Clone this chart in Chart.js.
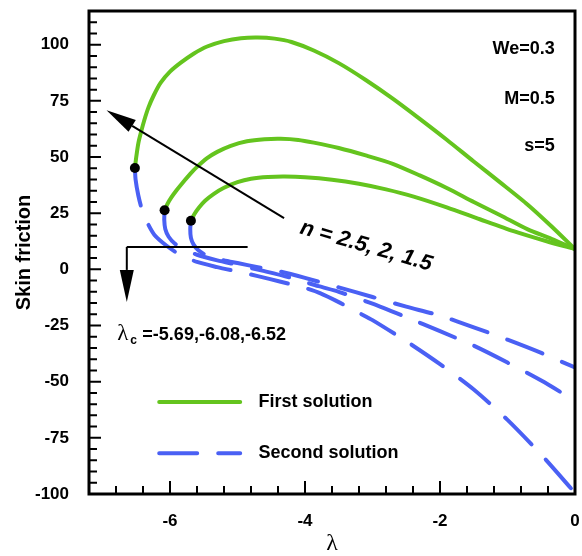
<!DOCTYPE html>
<html>
<head>
<meta charset="utf-8">
<title>Skin friction</title>
<script src="https://cdn.jsdelivr.net/npm/chart.js@4.4.1/dist/chart.umd.min.js"></script>
<style>
  html, body { margin: 0; padding: 0; background: #fff; }
  #wrap { width: 582px; height: 556px; position: relative; }
</style>
</head>
<body>
<div id="wrap"><canvas id="skinChart"></canvas></div>
<script>
// turning points (lambda_c) where the two branches meet
const lamC = [-6.52, -6.08, -5.69];
const cfC = [45.1, 26.3, 21.6];

// first solution (upper branch), n = 2.5
const lamFirst25 = [-6.52, -6.5, -6.47, -6.43, -6.38, -6.32, -6.24, -6.14, -6.0, -5.84, -5.65, -5.45, -5.2, -4.95, -4.7, -4.45, -4.2, -3.87, -3.5, -3.1, -2.7, -2.3, -1.9, -1.5, -1.1, -0.7, -0.35, 0];
const cfFirst25 = [45.1, 50, 56, 61, 66.5, 72, 77.5, 83, 88, 92, 96, 99.2, 101.6, 102.9, 103.2, 102.7, 101.2, 97.4, 91.8, 84.3, 76, 67, 57.7, 48, 38.5, 28.8, 19.2, 9];
// n = 2
const lamFirst20 = [-6.08, -6.04, -5.98, -5.9, -5.8, -5.7, -5.6, -5.45, -5.3, -5.1, -4.86, -4.6, -4.36, -4.1, -3.87, -3.5, -3.1, -2.7, -2.3, -1.9, -1.5, -1.1, -0.7, -0.35, 0];
const cfFirst20 = [26.3, 29, 32, 35.3, 39, 42.5, 45.6, 49.5, 52.3, 55, 57, 57.9, 58.1, 57.6, 56.4, 54, 50.7, 47, 41.8, 36.2, 30, 24, 17.8, 13.6, 9];
// n = 1.5
const lamFirst15 = [-5.69, -5.64, -5.57, -5.48, -5.35, -5.2, -5.0, -4.8, -4.55, -4.3, -4.0, -3.6, -3.2, -2.8, -2.39, -1.9, -1.41, -0.91, -0.42, 0];
const cfFirst15 = [21.6, 24.5, 27.5, 30.5, 33.6, 36.3, 38.8, 40.3, 41.1, 41.3, 41, 39.9, 38.1, 35.6, 32.4, 27.6, 22.3, 17, 12.5, 9];

// second solution (lower branch), n = 2.5
const lamSecond25 = [-6.52, -6.51, -6.47, -6.41, -6.34, -6.23, -6.05, -5.85, -5.6, -5.3, -5.0, -4.7, -4.36, -4.0, -3.77, -3.5, -3.2, -3.0, -2.5, -2.0, -1.5, -1.0, -0.5, 0];
const cfSecond25 = [45.1, 40, 33, 26, 21, 15.3, 10.5, 6.5, 3.3, 1, -1, -3, -5.5, -8.3, -10.7, -14.6, -19.4, -22.6, -32, -42.2, -53.5, -67, -82.5, -99.5];
// n = 2
const lamSecond20 = [-6.08, -6.085, -6.07, -6.02, -5.93, -5.8, -5.6, -5.3, -5.0, -4.6, -4.2, -3.8, -3.5, -3.0, -2.5, -2.0, -1.5, -1.0, -0.5, 0];
const cfSecond20 = [26.3, 22, 18, 14.5, 11.5, 9, 6.5, 4, 2, -0.8, -3.8, -7.5, -10, -15.3, -21.3, -27.5, -34, -41.5, -49.5, -58.5];
// n = 1.5
const lamSecond15 = [-5.69, -5.7, -5.69, -5.65, -5.58, -5.47, -5.3, -5.0, -4.7, -4.36, -4.0, -3.5, -3.0, -2.5, -2.0, -1.5, -1.0, -0.5, 0];
const cfSecond15 = [21.6, 18, 14, 11, 8.5, 6.4, 4.7, 2.8, 1, -1, -3.8, -8, -12.3, -16.6, -20.6, -25.8, -31.3, -37.2, -43.7];

// axis ranges and tick spacing
const lamRange = [-7.2, 0];
const cfRange = [-100, 115];
const lamStep = 0.4, lamMajor = 2;
const cfStep = 5, cfMajor = 25;

// annotation anchors, in (lambda, skin friction) units
const nArrowFrom = [-4.31, 22.8];
const nArrowTo = [-6.94, 70.8];
const nLabelAt = [-4.09, 16.1];
const bracketRight = [-4.85, 10];
const bracketCorner = [-6.64, 10];
const bracketTip = [-6.64, -14.5];
const lamCLabelAt = [-6.78, -31.3];
const paramLabels = ['We=0.3', 'M=0.5', 's=5'];
const paramAt = [[-0.3, 97.9], [-0.3, 75.9], [-0.3, 54.7]];
const legendLine = [-6.16, -4.96];
const legendTextAt = -4.69;
const legendRows = [-59.1, -81.9];

const green = '#64c41e';
const blue = '#4a60f4';
const sans = "'Liberation Sans', Arial, sans-serif";
const serif = "'Liberation Serif', 'Times New Roman', serif";
const dash = [38, 21];

function pts(xs, ys) {
  return xs.map((x, i) => ({ x: x, y: ys[i] }));
}
function isMultiple(v, m) {
  return Math.abs(v / m - Math.round(v / m)) < 1e-6;
}

function firstLine(xs, ys) {
  return { data: pts(xs, ys), borderColor: green, borderWidth: 4, borderCapStyle: 'round',
    pointRadius: 0, tension: 0.25, fill: false };
}
function secondLine(xs, ys) {
  return { data: pts(xs, ys), borderColor: blue, borderWidth: 4, borderCapStyle: 'round',
    borderDash: dash, pointRadius: 0, tension: 0.25, fill: false };
}

function arrow(ctx, x0, y0, x1, y1, head, half) {
  const a = Math.atan2(y1 - y0, x1 - x0);
  const bx = x1 - head * Math.cos(a), by = y1 - head * Math.sin(a);
  ctx.beginPath();
  ctx.moveTo(x0, y0);
  ctx.lineTo(bx, by);
  ctx.stroke();
  ctx.beginPath();
  ctx.moveTo(x1, y1);
  ctx.lineTo(bx + half * Math.sin(a), by - half * Math.cos(a));
  ctx.lineTo(bx - half * Math.sin(a), by + half * Math.cos(a));
  ctx.closePath();
  ctx.fill();
}

// frame, inward ticks, arrows, text and legend
const decor = {
  id: 'decor',
  afterDatasetsDraw(chart) {
    const { ctx, chartArea: area, scales: { x, y } } = chart;
    const px = v => x.getPixelForValue(v);
    const py = v => y.getPixelForValue(v);
    ctx.save();
    ctx.strokeStyle = '#000';
    ctx.fillStyle = '#000';

    ctx.lineWidth = 2;
    ctx.beginPath();
    x.ticks.forEach(t => {
      const len = isMultiple(t.value, lamMajor) ? 13 : 8;
      const p = px(t.value);
      ctx.moveTo(p, area.bottom);
      ctx.lineTo(p, area.bottom - len);
    });
    y.ticks.forEach(t => {
      const len = isMultiple(t.value, cfMajor) ? 12 : 8;
      const p = py(t.value);
      ctx.moveTo(area.left, p);
      ctx.lineTo(area.left + len, p);
    });
    ctx.stroke();

    ctx.lineWidth = 3;
    ctx.strokeRect(area.left, area.top, area.right - area.left, area.bottom - area.top);

    // n arrow
    ctx.lineWidth = 2;
    arrow(ctx, px(nArrowFrom[0]), py(nArrowFrom[1]), px(nArrowTo[0]), py(nArrowTo[1]), 30, 7);

    // lambda_c bracket arrow
    ctx.beginPath();
    ctx.moveTo(px(bracketRight[0]), py(bracketRight[1]));
    ctx.lineTo(px(bracketCorner[0]), py(bracketCorner[1]));
    ctx.stroke();
    arrow(ctx, px(bracketCorner[0]), py(bracketCorner[1]), px(bracketTip[0]), py(bracketTip[1]), 32, 7);

    // n label
    ctx.save();
    ctx.translate(px(nLabelAt[0]), py(nLabelAt[1]));
    ctx.rotate(16 * Math.PI / 180);
    ctx.font = 'italic bold 22px ' + sans;
    ctx.textAlign = 'left';
    ctx.textBaseline = 'alphabetic';
    ctx.fillText('n = 2.5, 2, 1.5', 0, 0);
    ctx.restore();

    // lambda_c label
    const lx = px(lamCLabelAt[0]), ly = py(lamCLabelAt[1]);
    ctx.textAlign = 'left';
    ctx.textBaseline = 'alphabetic';
    ctx.font = '23px ' + serif;
    ctx.fillText('λ', lx, ly);
    ctx.font = 'bold 12px ' + sans;
    ctx.fillText('c', lx + 13, ly + 4.5);
    ctx.font = 'bold 18px ' + sans;
    ctx.fillText('=-5.69,-6.08,-6.52', lx + 25, ly);

    // parameter labels
    ctx.textAlign = 'right';
    ctx.textBaseline = 'middle';
    paramLabels.forEach((s, i) => ctx.fillText(s, px(paramAt[i][0]), py(paramAt[i][1])));

    // legend
    ctx.lineWidth = 4;
    ctx.lineCap = 'round';
    ctx.strokeStyle = green;
    ctx.beginPath();
    ctx.moveTo(px(legendLine[0]), py(legendRows[0]));
    ctx.lineTo(px(legendLine[1]), py(legendRows[0]));
    ctx.stroke();
    ctx.strokeStyle = blue;
    ctx.setLineDash(dash);
    ctx.beginPath();
    ctx.moveTo(px(legendLine[0]), py(legendRows[1]));
    ctx.lineTo(px(legendLine[1]), py(legendRows[1]));
    ctx.stroke();
    ctx.setLineDash([]);
    ctx.textAlign = 'left';
    ctx.fillText('First solution', px(legendTextAt), py(legendRows[0]));
    ctx.fillText('Second solution', px(legendTextAt), py(legendRows[1]));

    ctx.restore();
  }
};

new Chart(document.getElementById('skinChart'), {
  type: 'line',
  data: {
    datasets: [
      { type: 'scatter', data: pts(lamC, cfC), pointRadius: 5, pointBackgroundColor: '#000',
        pointBorderWidth: 0, showLine: false },
      firstLine(lamFirst25, cfFirst25),
      firstLine(lamFirst20, cfFirst20),
      firstLine(lamFirst15, cfFirst15),
      secondLine(lamSecond25, cfSecond25),
      secondLine(lamSecond20, cfSecond20),
      secondLine(lamSecond15, cfSecond15)
    ]
  },
  options: {
    responsive: true,
    maintainAspectRatio: false,
    animation: false,
    events: [],
    layout: { padding: { top: 11, right: 7, left: 0, bottom: 0 } },
    plugins: { legend: { display: false }, tooltip: { enabled: false } },
    scales: {
      x: {
        type: 'linear',
        min: lamRange[0],
        max: lamRange[1],
        afterFit(s) { s.height = 62; s.paddingLeft = 0; s.paddingRight = 0; },
        grid: { display: false },
        border: { display: false },
        ticks: {
          stepSize: lamStep,
          autoSkip: false,
          maxRotation: 0,
          padding: 9,
          color: '#000',
          font: { family: sans, size: 17, weight: 'bold' },
          callback: v => isMultiple(v, lamMajor) ? String(Math.round(v)) : ''
        },
        title: {
          display: true,
          text: 'λ',
          color: '#000',
          font: { family: serif, size: 24, lineHeight: 1 },
          padding: { top: 0, bottom: 0 }
        }
      },
      y: {
        type: 'linear',
        min: cfRange[0],
        max: cfRange[1],
        afterFit(s) { s.width = 89; s.paddingTop = 0; s.paddingBottom = 0; },
        grid: { display: false },
        border: { display: false },
        ticks: {
          stepSize: cfStep,
          autoSkip: false,
          padding: 12,
          color: '#000',
          font: { family: sans, size: 17, weight: 'bold' },
          callback: v => isMultiple(v, cfMajor) ? String(Math.round(v)) : ''
        },
        title: {
          display: true,
          text: 'Skin friction',
          color: '#000',
          font: { family: sans, size: 20, weight: 'bold' },
          padding: { top: 12, bottom: 0 }
        }
      }
    }
  },
  plugins: [decor]
});
</script>
</body>
</html>
